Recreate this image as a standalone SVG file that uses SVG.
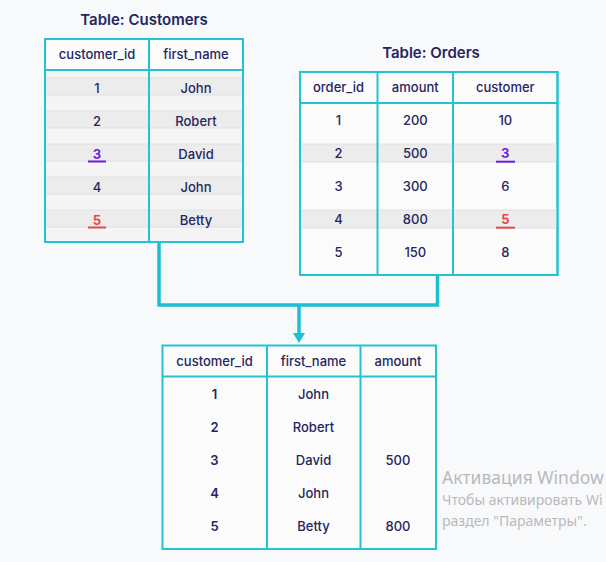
<svg xmlns="http://www.w3.org/2000/svg" width="606" height="562" viewBox="0 0 606 562">
<defs>
<style>
.bg{fill:#f8f9fb}
.tbl{fill:#fbfbfc;stroke:#22c3d3;stroke-width:2}
.ln{stroke:#22c3d3;stroke-width:2;fill:none}
.band{fill:#ececed}
.light{fill:#f5f5f6}
.sep{stroke:#e0e0e2;stroke-width:1}
text{font-family:Inter,"Liberation Sans","Noto Sans",sans-serif;fill:#25265e;text-anchor:middle}
.h{font-size:13px;font-weight:500}
.c{font-size:13px;font-weight:500}
.b{font-size:13px;font-weight:600}
.title{font-size:15px;font-weight:600}
.pur{fill:#6b1fe0;font-weight:700}
.red{fill:#e54848;font-weight:700}
.ulp{stroke:#6b1fe0;stroke-width:2}
.ulr{stroke:#e54848;stroke-width:2}
.conn{stroke:#1dbfd2;stroke-width:3.5;fill:none}
.wm{font-family:"Noto Sans","Open Sans","DejaVu Sans",sans-serif;fill:#b9b9bd;text-anchor:start}
</style>
</defs>
<rect class="bg" x="0" y="0" width="606" height="562"/>

<g id="connectors">
<path class="conn" d="M159,242 V305 H437.5 V275"/>
<path class="conn" d="M299,305 V334"/>
<path d="M293,333 L305,333 L299,343 Z" fill="#1dbfd2"/>
</g>

<g id="customers">
<text class="title" x="144" y="25">Table: Customers</text>
<rect class="tbl" x="45" y="39" width="198" height="203"/>
<rect class="light" x="46" y="71" width="196" height="170"/>
<rect class="band" x="46" y="78" width="196" height="17"/>
<rect class="band" x="46" y="111" width="196" height="17"/>
<rect class="band" x="46" y="144" width="196" height="17"/>
<rect class="band" x="46" y="177" width="196" height="17"/>
<rect class="band" x="46" y="210" width="196" height="17"/>
<g class="sep">
<line x1="46" y1="78" x2="242" y2="78"/><line x1="46" y1="95" x2="242" y2="95"/>
<line x1="46" y1="111" x2="242" y2="111"/><line x1="46" y1="128" x2="242" y2="128"/>
<line x1="46" y1="144" x2="242" y2="144"/><line x1="46" y1="161" x2="242" y2="161"/>
<line x1="46" y1="177" x2="242" y2="177"/><line x1="46" y1="194" x2="242" y2="194"/>
<line x1="46" y1="210" x2="242" y2="210"/><line x1="46" y1="227" x2="242" y2="227"/>
</g>
<line class="ln" x1="45" y1="70" x2="243" y2="70"/>
<line class="ln" x1="149" y1="39" x2="149" y2="242"/>
<rect x="45" y="39" width="198" height="203" fill="none" stroke="#22c3d3" stroke-width="2"/>
<text class="h" x="97" y="59">customer_id</text>
<text class="h" x="196" y="59">first_name</text>
<text class="c" x="97" y="92.5">1</text><text class="c" x="196" y="92.5">John</text>
<text class="c" x="97" y="125.5">2</text><text class="c" x="196" y="125.5">Robert</text>
<text class="c pur" x="97" y="158.5">3</text><text class="c" x="196" y="158.5">David</text>
<line class="ulp" x1="88" y1="161.5" x2="106" y2="161.5"/>
<text class="c" x="97" y="191.5">4</text><text class="c" x="196" y="191.5">John</text>
<text class="c red" x="97" y="224.5">5</text><text class="c" x="196" y="224.5">Betty</text>
<line class="ulr" x1="88" y1="227.5" x2="106" y2="227.5"/>
</g>

<g id="orders">
<text class="title" x="431" y="58">Table: Orders</text>
<rect class="tbl" x="300" y="72" width="257.5" height="203"/>
<rect class="band" x="301" y="144" width="255.5" height="18"/>
<rect class="band" x="301" y="210" width="255.5" height="18"/>
<g class="sep">
<line x1="301" y1="144" x2="556.5" y2="144"/><line x1="301" y1="162" x2="556.5" y2="162"/>
<line x1="301" y1="210" x2="556.5" y2="210"/><line x1="301" y1="228" x2="556.5" y2="228"/>
</g>
<line class="ln" x1="300" y1="103" x2="557.5" y2="103"/>
<line class="ln" x1="377.5" y1="72" x2="377.5" y2="275"/>
<line class="ln" x1="453" y1="72" x2="453" y2="275"/>
<rect x="300" y="72" width="257.5" height="203" fill="none" stroke="#22c3d3" stroke-width="2"/>
<text class="h" x="338.5" y="92">order_id</text>
<text class="h" x="415.3" y="92">amount</text>
<text class="h" x="505.3" y="92">customer</text>
<text class="c" x="338.5" y="125">1</text><text class="c" x="415.3" y="125">200</text><text class="c" x="505.3" y="125">10</text>
<text class="c" x="338.5" y="158">2</text><text class="c" x="415.3" y="158">500</text><text class="c pur" x="505.3" y="158">3</text>
<line class="ulp" x1="496" y1="161.7" x2="515" y2="161.7"/>
<text class="c" x="338.5" y="191">3</text><text class="c" x="415.3" y="191">300</text><text class="c" x="505.3" y="191">6</text>
<text class="c" x="338.5" y="224">4</text><text class="c" x="415.3" y="224">800</text><text class="c red" x="505.3" y="224">5</text>
<line class="ulr" x1="496" y1="227.7" x2="515" y2="227.7"/>
<text class="c" x="338.5" y="257">5</text><text class="c" x="415.3" y="257">150</text><text class="c" x="505.3" y="257">8</text>
</g>

<g id="result">
<rect class="tbl" x="162.5" y="345.5" width="273.5" height="203.5"/>
<line class="ln" x1="162.5" y1="376.5" x2="436" y2="376.5"/>
<line class="ln" x1="267" y1="345.5" x2="267" y2="549"/>
<line class="ln" x1="360.5" y1="345.5" x2="360.5" y2="549"/>
<text class="h" x="214.5" y="365.5">customer_id</text>
<text class="h" x="313.5" y="365.5">first_name</text>
<text class="h" x="398" y="365.5">amount</text>
<text class="b" x="214.5" y="398.5">1</text><text class="c" x="313.5" y="398.5">John</text>
<text class="b" x="214.5" y="431.5">2</text><text class="c" x="313.5" y="431.5">Robert</text>
<text class="b" x="214.5" y="464.5">3</text><text class="c" x="313.5" y="464.5">David</text><text class="c" x="398" y="464.5">500</text>
<text class="b" x="214.5" y="497.5">4</text><text class="c" x="313.5" y="497.5">John</text>
<text class="b" x="214.5" y="530.5">5</text><text class="c" x="313.5" y="530.5">Betty</text><text class="c" x="398" y="530.5">800</text>
</g>

<g id="watermark">
<text class="wm" x="442" y="484" font-size="17.5">Активация Window</text>
<text class="wm" x="442" y="505" font-size="14">Чтобы активировать Wi</text>
<text class="wm" x="442" y="526" font-size="14">раздел "Параметры".</text>
</g>
</svg>
